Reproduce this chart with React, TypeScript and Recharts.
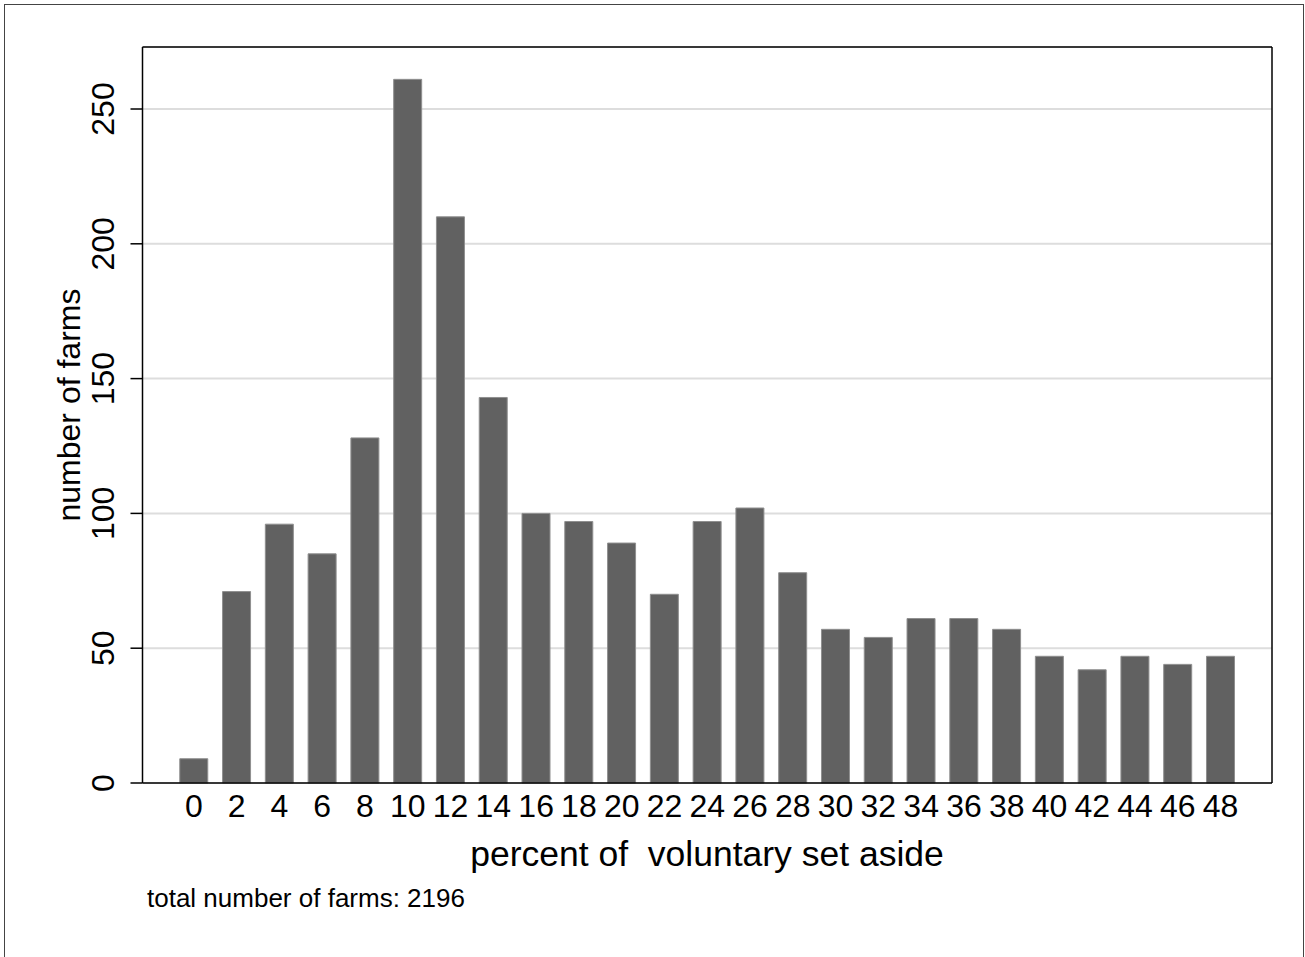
import { BarChart, Bar, XAxis, YAxis, CartesianGrid, Label } from "recharts"

const percents = ["0", "2", "4", "6", "8", "10", "12", "14", "16", "18", "20", "22", "24", "26", "28", "30", "32", "34", "36", "38", "40", "42", "44", "46", "48"]
const farms = [9, 71, 96, 85, 128, 261, 210, 143, 100, 97, 89, 70, 97, 102, 78, 57, 54, 61, 61, 57, 47, 42, 47, 44, 47]
const yTicks = [0, 50, 100, 150, 200, 250]
const footnote = "total number of farms: 2196"

const data = percents.map((p, i) => ({ pct: p, farms: farms[i] }))

const font = "'Liberation Sans', Arial, Helvetica, sans-serif"

function YTick(props: any) {
    const { x, y, payload } = props
    return (
        <g transform={`translate(${x},${y})`}>
            <text transform="rotate(-90)" textAnchor="middle" fontSize={32} fill="#000" fontFamily={font}>
                {payload.value}
            </text>
        </g>
    )
}

function XTick(props: any) {
    const { x, y, payload } = props
    return (
        <text x={x} y={y} textAnchor="middle" fontSize={32} fill="#000" fontFamily={font}>
            {payload.value}
        </text>
    )
}

export default function App() {
    return (
        <div style={{ position: "absolute", left: 0, top: 0, width: 1305, height: 957, overflow: "hidden", background: "#fff" }}>
            <div style={{ position: "absolute", left: 4, top: 4, width: 1298, height: 1000, border: "1px solid #444" }} />
            <div style={{ position: "absolute", left: 0, top: 0 }}>
                <BarChart width={1305} height={957} data={data} margin={{ top: 46, right: 32, bottom: 114, left: 0 }} barCategoryGap="17%">
                    <CartesianGrid vertical={false} stroke="#dddddd" strokeWidth={2} />
                    <XAxis
                        dataKey="pct"
                        padding={{ left: 30, right: 30 }}
                        tickLine={false}
                        tickSize={0}
                        tickMargin={34}
                        interval={0}
                        axisLine={{ stroke: "#000", strokeWidth: 1.5 }}
                        tick={<XTick />}
                        height={60}
                    >
                        <Label
                            content={() => (
                                <g>
                                    <text x={707} y={866} textAnchor="middle" fontSize={35.5} fill="#000" fontFamily={font} style={{ whiteSpace: "pre" }}>
                                        {"percent of  voluntary set aside"}
                                    </text>
                                    <text x={147} y={907} fontSize={26} fill="#000" fontFamily={font}>
                                        {footnote}
                                    </text>
                                </g>
                            )}
                        />
                    </XAxis>
                    <XAxis xAxisId="top" dataKey="pct" orientation="top" height={1} tick={false} tickLine={false} axisLine={{ stroke: "#000", strokeWidth: 1.5 }} />
                    <YAxis
                        domain={[0, 273]}
                        ticks={yTicks}
                        width={142.5}
                        tickSize={12}
                        tickMargin={17}
                        tickLine={{ stroke: "#000", strokeWidth: 1.5 }}
                        axisLine={{ stroke: "#000", strokeWidth: 1.5 }}
                        tick={<YTick />}
                    >
                        <Label
                            content={() => (
                                <text transform="translate(80,405) rotate(-90)" textAnchor="middle" fontSize={32} fill="#000" fontFamily={font}>
                                    number of farms
                                </text>
                            )}
                        />
                    </YAxis>
                    <YAxis yAxisId="right" orientation="right" width={1} domain={[0, 273]} tick={false} tickLine={false} axisLine={{ stroke: "#000", strokeWidth: 1.5 }} />
                    <Bar dataKey="farms" fill="#616161" stroke="#8f8f8f" strokeWidth={1} isAnimationActive={false} />
                </BarChart>
            </div>
        </div>
    )
}
